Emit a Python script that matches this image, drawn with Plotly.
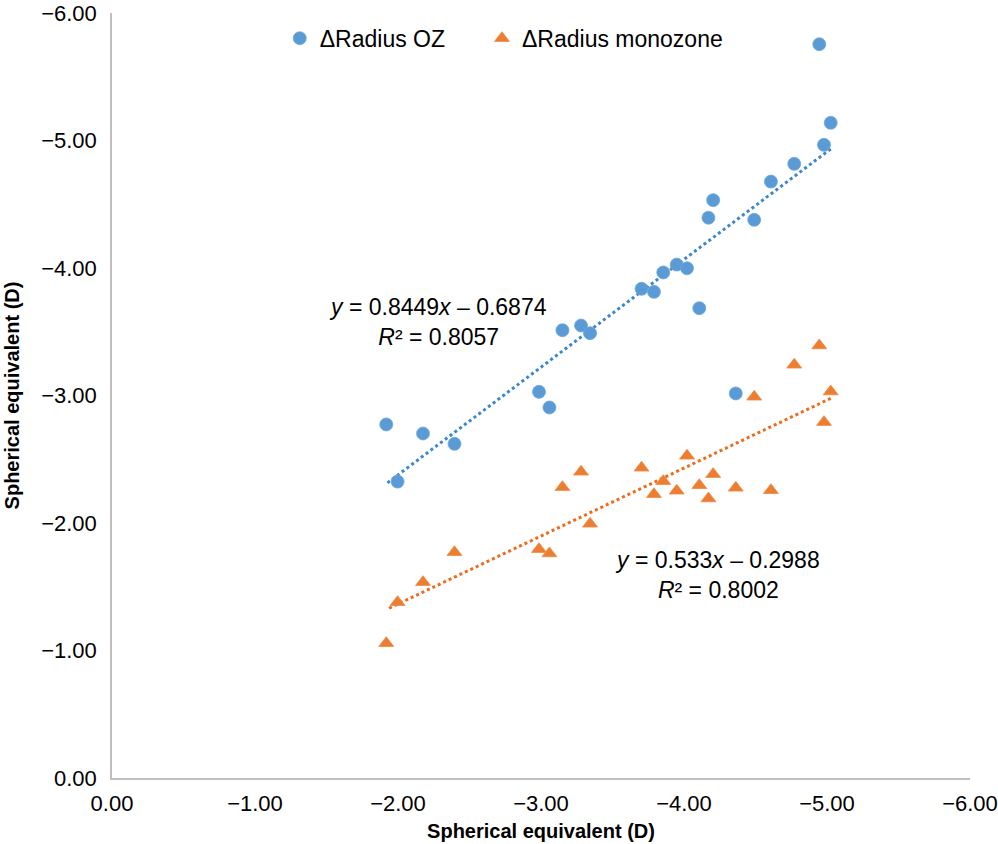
import plotly.graph_objects as go

# Spherical equivalent (D) - shared x values
se = [-1.918, -1.997, -2.175, -2.395, -2.986, -3.059, -3.150, -3.280, -3.343, -3.703,
      -3.790, -3.855, -3.949, -4.021, -4.107, -4.171, -4.204, -4.362, -4.491, -4.608,
      -4.771, -4.946, -4.979, -5.026]

d_radius_oz = [-2.773, -2.325, -2.702, -2.621, -3.029, -2.906, -3.512, -3.549, -3.489, -3.837,
               -3.813, -3.965, -4.027, -3.998, -3.685, -4.394, -4.532, -3.016, -4.378, -4.678,
               -4.817, -5.755, -4.966, -5.139]

d_radius_mono = [-1.057, -1.379, -1.536, -1.771, -1.795, -1.761, -2.281, -2.402, -1.994, -2.433,
                 -2.226, -2.328, -2.253, -2.527, -2.296, -2.192, -2.383, -2.276, -2.990, -2.257,
                 -3.241, -3.392, -2.791, -3.031]

# Trendline coefficients (as printed on chart)
oz_slope, oz_intercept, oz_r2 = 0.8449, -0.6874, 0.8057
mono_slope, mono_intercept, mono_r2 = 0.533, -0.2988, 0.8002

tick_vals = [0, -1, -2, -3, -4, -5, -6]

BLUE = "#5B9BD5"
ORANGE = "#ED7D31"
FONT = "Liberation Sans, Arial, sans-serif"
NBSP = "\u00a0"

xfit = [min(se), max(se)]

fig = go.Figure()
fig.add_trace(go.Scatter(x=xfit, y=[oz_slope * v + oz_intercept for v in xfit], mode="lines",
                         line=dict(color="#3A86CF", width=3, dash="dot"), showlegend=False,
                         hoverinfo="skip"))
fig.add_trace(go.Scatter(x=xfit, y=[mono_slope * v + mono_intercept for v in xfit], mode="lines",
                         line=dict(color="#EE6A1C", width=3, dash="dot"), showlegend=False,
                         hoverinfo="skip"))
fig.add_trace(go.Scatter(x=se, y=d_radius_oz, mode="markers", name="ΔRadius OZ" + NBSP * 5,
                         marker=dict(symbol="circle", size=13, color=BLUE,
                                     line=dict(color="#6FA8DC", width=0.8))))
fig.add_trace(go.Scatter(x=se, y=d_radius_mono, mode="markers", name="ΔRadius monozone",
                         marker=dict(symbol="triangle-up", size=13, color=ORANGE,
                                     line=dict(color="#F08A45", width=0.8))))

fig.add_annotation(x=-2.28, y=-3.58, xref="x", yref="y", showarrow=False, align="center",
                   text=f"<i>y</i> = {oz_slope}<i>x</i> – {abs(oz_intercept)}<br><i>R</i>² = {oz_r2}",
                   font=dict(family=FONT, size=23, color="#000000"))
fig.add_annotation(x=-4.231, y=-1.59, xref="x", yref="y", showarrow=False, align="center",
                   text=f"<i>y</i> = {mono_slope}<i>x</i> – {abs(mono_intercept)}<br><i>R</i>² = {mono_r2}",
                   font=dict(family=FONT, size=23, color="#000000"))

axis_common = dict(
    range=[0, -6], tickvals=tick_vals, tickformat=".2f", showgrid=False, zeroline=False,
    showline=True, linecolor="#BFBFBF", linewidth=1.5, ticks="", automargin=False,
    ticklabeloverflow="allow",
    tickfont=dict(family=FONT, size=22, color="#000000"),
)

fig.update_layout(
    width=998, height=844,
    margin=dict(l=112, r=28, t=13, b=66),
    paper_bgcolor="white", plot_bgcolor="white",
    font=dict(family=FONT, size=22, color="#000000"),
    xaxis=dict(**axis_common, ticklabelstandoff=5,
               title=dict(text="<b>Spherical equivalent (D)</b>", standoff=9,
                          font=dict(family=FONT, size=20, color="#000000"))),
    yaxis=dict(**axis_common, ticklabelstandoff=9,
               title=dict(text="<b>Spherical equivalent (D)</b>", standoff=16,
                          font=dict(family=FONT, size=20, color="#000000"))),
    legend=dict(orientation="h", x=0.1955, y=0.967, xanchor="left", yanchor="middle",
                font=dict(family=FONT, size=23, color="#000000"),
                bgcolor="rgba(0,0,0,0)", itemwidth=30),
    showlegend=True,
)

fig.write_html("out.html", config={"displayModeBar": False},
               post_script="document.body.style.margin='0';document.body.style.overflow='hidden';")
